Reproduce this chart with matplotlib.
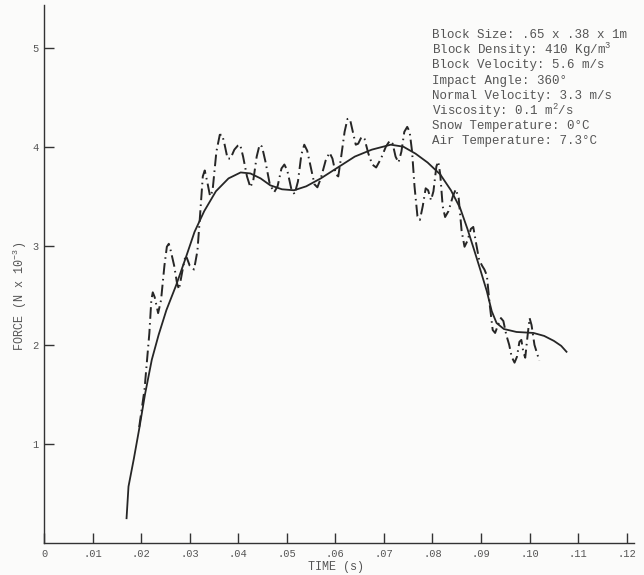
import matplotlib
matplotlib.use("Agg")
import matplotlib.pyplot as plt

# Smoothed force curve (solid)
smooth_t = [0.0170, 0.0174, 0.0185, 0.0196, 0.0208, 0.0222, 0.0236, 0.0252, 0.0272,
            0.0292, 0.0310, 0.0330, 0.0354, 0.0380, 0.0405, 0.0425, 0.0446, 0.0466,
            0.0490, 0.0515, 0.0540, 0.0570, 0.0605, 0.0640, 0.0675, 0.0714, 0.0740,
            0.0765, 0.0790, 0.0816, 0.0838, 0.0857, 0.0872, 0.0885, 0.0899, 0.0912,
            0.0922, 0.0932, 0.0947, 0.0973, 0.1008, 0.1030, 0.1050, 0.1065, 0.1076]
smooth_f = [0.25, 0.57, 0.85, 1.15, 1.50, 1.85, 2.10, 2.35, 2.60,
            2.88, 3.14, 3.35, 3.55, 3.68, 3.74, 3.73, 3.68, 3.61,
            3.57, 3.56, 3.60, 3.68, 3.79, 3.90, 3.97, 4.02, 4.00,
            3.93, 3.84, 3.72, 3.56, 3.38, 3.17, 2.97, 2.75, 2.54,
            2.34, 2.22, 2.16, 2.13, 2.12, 2.09, 2.04, 1.99, 1.93]

# Measured force record (dash-dot)
meas_t = [0.0196, 0.0207, 0.0217, 0.0221, 0.0224, 0.0228, 0.0235, 0.0241, 0.0248, 0.0253,
          0.0257, 0.0261, 0.0268, 0.0274, 0.0278, 0.0284, 0.0290, 0.0294, 0.0300, 0.0309,
          0.0316, 0.0322, 0.0327, 0.0331, 0.0336, 0.0342, 0.0347, 0.0355, 0.0362, 0.0367,
          0.0372, 0.0378, 0.0384, 0.0392, 0.0399, 0.0404, 0.0410, 0.0418, 0.0425, 0.0431,
          0.0438, 0.0444, 0.0449, 0.0456, 0.0465, 0.0474, 0.0481, 0.0489, 0.0495, 0.0501,
          0.0509, 0.0516, 0.0523, 0.0530, 0.0536, 0.0542, 0.0549, 0.0557, 0.0563, 0.0570,
          0.0580, 0.0588, 0.0594, 0.0601, 0.0606, 0.0612, 0.0619, 0.0625, 0.0630, 0.0636,
          0.0642, 0.0647, 0.0654, 0.0660, 0.0668, 0.0676, 0.0684, 0.0694, 0.0704, 0.0712,
          0.0718, 0.0724, 0.0730, 0.0736, 0.0742, 0.0748, 0.0753, 0.0758, 0.0763, 0.0769,
          0.0774, 0.0780, 0.0786, 0.0791, 0.0797, 0.0802, 0.0808, 0.0812, 0.0816, 0.0821,
          0.0826, 0.0833, 0.0842, 0.0848, 0.0854, 0.0860, 0.0866, 0.0872, 0.0879, 0.0884,
          0.0890, 0.0896, 0.0902, 0.0907, 0.0912, 0.0918, 0.0924, 0.0929, 0.0935, 0.0941,
          0.0946, 0.0952, 0.0958, 0.0963, 0.0969, 0.0974, 0.0979, 0.0983, 0.0987, 0.0991,
          0.0996, 0.1000, 0.1004, 0.1010, 0.1020]
meas_f = [1.17, 1.55, 2.12, 2.45, 2.53, 2.48, 2.32, 2.45, 2.80, 2.99,
          3.02, 2.95, 2.80, 2.62, 2.56, 2.72, 2.87, 2.88, 2.80, 2.76,
          2.95, 3.35, 3.70, 3.76, 3.65, 3.50, 3.55, 3.95, 4.12, 4.12,
          4.02, 3.88, 3.88, 3.97, 4.01, 4.02, 3.90, 3.70, 3.59, 3.66,
          3.90, 4.02, 4.00, 3.85, 3.62, 3.54, 3.60, 3.78, 3.82, 3.76,
          3.58, 3.52, 3.65, 3.92, 4.02, 3.96, 3.80, 3.62, 3.59, 3.68,
          3.86, 3.94, 3.88, 3.72, 3.70, 3.90, 4.15, 4.28, 4.28, 4.15,
          4.02, 4.03, 4.10, 4.08, 3.93, 3.82, 3.79, 3.88, 4.00, 4.06,
          4.03, 3.90, 3.84, 3.95, 4.15, 4.20, 4.15, 3.95, 3.60, 3.30,
          3.26, 3.40, 3.58, 3.56, 3.46, 3.55, 3.80, 3.85, 3.72, 3.40,
          3.29, 3.35, 3.50, 3.57, 3.48, 3.15, 2.99, 3.05, 3.17, 3.19,
          3.02, 2.86, 2.80, 2.76, 2.70, 2.40, 2.15, 2.12, 2.20, 2.27,
          2.24, 2.10, 2.00, 1.88, 1.82, 1.88, 2.03, 2.05, 1.93, 1.87,
          2.10, 2.27, 2.20, 2.00, 1.84]

xticks = [0, 0.01, 0.02, 0.03, 0.04, 0.05, 0.06, 0.07, 0.08, 0.09, 0.10, 0.11, 0.12]
xticklabels = ["0", ".01", ".02", ".03", ".04", ".05", ".06", ".07", ".08", ".09", ".10", ".11", ".12"]
yticks = [1, 2, 3, 4, 5]
yticklabels = ["1", "2", "3", "4", "5"]

info_lines = [
    "Block Size: .65 x .38 x 1m",
    "Block Density: 410 Kg/m$^3$",
    "Block Velocity: 5.6 m/s",
    "Impact Angle: 360°",
    "Normal Velocity: 3.3 m/s",
    "Viscosity: 0.1 m$^2$/s",
    "Snow Temperature: 0°C",
    "Air Temperature: 7.3°C",
]

FONT = "Liberation Mono"
LINE_C = "#262626"
TEXT_C = "#555555"
plt.rcParams["font.family"] = [FONT, "DejaVu Sans"]
plt.rcParams["mathtext.fontset"] = "custom"
plt.rcParams["mathtext.rm"] = FONT

W, H = 644, 575
fig = plt.figure(figsize=(W / 100, H / 100), dpi=100)
fig.patch.set_facecolor("#fbfbfa")
ax = fig.add_axes([44 / W, (H - 543) / H, (634 - 44) / W, (543 - 5) / H])
ax.set_facecolor("#fbfbfa")

ax.plot(smooth_t, smooth_f, color=LINE_C, lw=1.3)
ax.plot(meas_t, meas_f, color=LINE_C, lw=1.4, ls=(0, (6, 2.2, 0.8, 2.2)))

ax.set_xlim(0, 0.1215)
ax.set_ylim(0, 5.43)
for s in ["top", "right"]:
    ax.spines[s].set_visible(False)
for s in ["left", "bottom"]:
    ax.spines[s].set_color("#333333")
    ax.spines[s].set_linewidth(1.0)

ax.set_xticks(xticks)
ax.set_xticklabels(xticklabels)
ax.set_yticks(yticks)
ax.set_yticklabels(yticklabels)
ax.tick_params(axis="both", direction="in", length=7, width=1.0, color="#333333",
               labelcolor=TEXT_C, labelsize=7.5)
ax.tick_params(axis="x", pad=4)
ax.tick_params(axis="y", pad=4)

fig.text(20 / W, 1 - 296 / H, "FORCE (N x 10$^{-3}$)", rotation=90, ha="center",
         va="center", fontsize=8.5, color=TEXT_C)
fig.text(336 / W, 1 - 567 / H, "TIME (s)", ha="center", va="center",
         fontsize=8.5, color=TEXT_C)

y0 = 35
dy = 15.2
for i, line in enumerate(info_lines):
    fig.text(432 / W, 1 - (y0 + i * dy) / H, line, ha="left", va="center",
             fontsize=9, color=TEXT_C)

fig.savefig("out.png", dpi=100, facecolor=fig.get_facecolor())
